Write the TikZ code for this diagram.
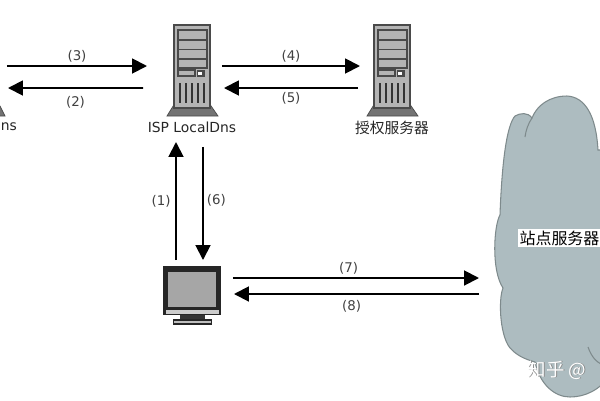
\documentclass[tikz,border=0pt]{standalone}
\usepackage{fontspec}
\setmainfont{DejaVu Sans}
\newfontfamily\cjk{Noto Sans CJK SC}
\usetikzlibrary{arrows.meta}
\definecolor{hostgray}{HTML}{B4B4B4}
\definecolor{hostline}{HTML}{4A4A4A}
\definecolor{cloudfill}{HTML}{ADBCC0}
\definecolor{cloudline}{HTML}{7E8A8C}
\tikzset{
    flow/.style={-{Triangle[length=8.5pt,width=8.5pt]}, line width=1.1pt, black},
    tag/.style={font=\fontsize{7.6}{9}\selectfont, text=black!75, inner sep=0pt},
    hostnode/.style={minimum width=0.72cm, minimum height=1.66cm, inner sep=0pt, outer sep=0pt},
    pcnode/.style={minimum width=1.16cm, minimum height=1.18cm, inner sep=0pt, outer sep=0pt},
    cloudnode/.style={minimum width=2.12cm, minimum height=6cm, inner sep=0pt, outer sep=0pt}
}
% 一台服务器,参数为机箱左上角
\newcommand{\hostbody}[2]{
    \begin{scope}[shift={(#1,#2)}]
        \fill[black!55, draw=hostline, line width=0.4pt] (1,78) -- (35,78) -- (44,91) -- (-7,91) -- cycle;
        \draw[hostline, fill=hostgray, line width=0.9pt] (0,0) rectangle (36,83);
        \draw[hostline, line width=0.7pt] (4,5) rectangle (33,43);
        \draw[hostline, line width=0.7pt] (4,15) -- (33,15) (4,24.5) -- (33,24.5) (4,34) -- (33,34);
        \draw[hostline, line width=0.7pt] (4,45) rectangle (21,51);
        \fill[hostline] (23,44.5) rectangle (31,52);
        \fill[white] (24,47) rectangle (28,50);
        \draw[black!80, line width=0.8pt] (6,58) -- (6,78) (12,58) -- (12,78) (18,58) -- (18,78) (24,58) -- (24,78) (30,58) -- (30,78);
    \end{scope}
}
\begin{document}
\begin{tikzpicture}[x=0.02cm, y=-0.02cm]
    \useasboundingbox (0,0) rectangle (600,400);
    \clip (0,0) rectangle (600,400);

    % 云
    \filldraw[fill=cloudfill, draw=cloudline, line width=0.6pt]
        (598,150) .. controls (596,115) and (585,97) .. (567,96)
        .. controls (550,96) and (537,105) .. (532,118)
        .. controls (528,112) and (520,113) .. (515,116)
        .. controls (507,125) and (502,160) .. (500,215)
        .. controls (494,225) and (491,270) .. (503,288)
        .. controls (498,300) and (500,340) .. (512,350)
        .. controls (519,357) and (528,360) .. (535,362)
        .. controls (540,385) and (555,397) .. (570,397)
        .. controls (585,397) and (600,390) .. (610,375)
        -- (610,150) -- cycle;
    \draw[cloudline, line width=0.6pt] (532,118) .. controls (528,124) and (526,130) .. (525,137);
    \draw[cloudline, line width=0.6pt] (588,347) .. controls (592,358) and (597,362) .. (601,364);
    \node[cloudnode] (cloud) at (547,247) {};
    \node[fill=white, inner sep=1pt, font=\cjk\fontsize{9.1}{11}\selectfont] (site) at (559.5,238) {站点服务器};

    % 水印
    \node[text=black!45, font=\cjk\fontsize{10.5}{12}\selectfont, anchor=west, inner sep=0pt] (markshadow) at (528.6,370.6) {知乎 @};
    \node[text=white, font=\cjk\fontsize{10.5}{12}\selectfont, anchor=west, inner sep=0pt] (mark) at (527.5,370) {知乎 @};

    % 服务器
    \hostbody{174}{25}
    \hostbody{374}{25}
    \node[hostnode] (isp) at (192,66.5) {};
    \node[hostnode] (auth) at (392,66.5) {};
    \node[font=\fontsize{7.9}{10}\selectfont, text=black!85, inner sep=0pt] (isplabel) at (192,127) {ISP LocalDns};
    \node[font=\cjk\fontsize{8.4}{10}\selectfont, text=black!85, inner sep=0pt] (authlabel) at (392,127.5) {授权服务器};

    % 左边只露出一角
    \fill[black!55, draw=hostline, line width=0.4pt] (-3,106) -- (0,106) -- (5,116) -- (-3,116) -- cycle;
    \node[font=\fontsize{7.9}{10}\selectfont, text=black!85, anchor=west, inner sep=0pt] (ns) at (0.5,127) {ns};
    \coordinate (nsupper) at (7,66);
    \coordinate (nslower) at (8,88);

    % 显示器
    \fill[black!85] (163,266) rectangle (221,315);
    \fill[black!20] (166,310) rectangle (219,314);
    \fill[black!35] (168,272) rectangle (216,307);
    \fill[black!80] (180,315) rectangle (205,319);
    \draw[black!85, fill=black!25, line width=0.9pt] (173.5,320) rectangle (211.5,324);
    \node[pcnode] (pc) at (192,295.5) {};

    % 箭头
    \draw[flow] (nsupper) -- node[tag, above=1.5pt] {(3)} ([shift={(-27,-0.5)}]isp.west);
    \draw[flow] ([shift={(-31,21.5)}]isp.west) -- node[tag, below=4.4pt] {(2)} (nslower);
    \draw[flow] ([shift={(12,-0.5)}]isp.east) -- node[tag, above=1.5pt] {(4)} ([shift={(-14,-0.5)}]auth.west);
    \draw[flow] ([shift={(-16,21.5)}]auth.west) -- node[tag, below=2pt] {(5)} ([shift={(14,21.5)}]isp.east);
    \draw[flow] ([shift={(-16,-6)}]pc.north) -- node[tag, left=2.5pt] {(1)} ([shift={(-16,34)}]isp.south);
    \draw[flow] ([shift={(11,39)}]isp.south) -- node[tag, right=1.7pt, pos=0.47] {(6)} ([shift={(11,-6)}]pc.north);
    \draw[flow] ([shift={(12,-17.5)}]pc.east) -- node[tag, above=1.7pt, pos=0.47] {(7)} ([shift={(-15,31)}]cloud.west);
    \draw[flow] ([shift={(-15,47)}]cloud.west) -- node[tag, below=3pt, pos=0.52] {(8)} ([shift={(13,-1.5)}]pc.east);
\end{tikzpicture}
\end{document}
